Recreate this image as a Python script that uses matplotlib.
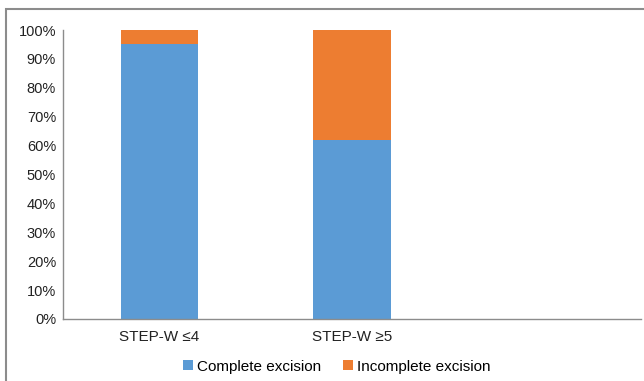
import matplotlib.pyplot as plt
from matplotlib.patches import Rectangle

plt.rcParams['font.family'] = ['Liberation Sans', 'DejaVu Sans']

categories = ['STEP-W \u22644', 'STEP-W \u22655', '']
complete = [0.95, 0.62, 0]
incomplete = [0.05, 0.38, 0]

blue = '#5B9BD5'
orange = '#ED7D31'

fig = plt.figure(figsize=(6.44, 3.81), dpi=100)
# outer chart frame (runs off the right and bottom edges)
fig.patches.append(Rectangle((5.5 / 644, -0.05), 1.0, 1 - 8.5 / 381 + 0.05,
                             transform=fig.transFigure, fill=False,
                             edgecolor='#8c8c8c', linewidth=1.5))

ax = fig.add_axes([63 / 644, 1 - 319 / 381, (641 - 63) / 644, (319 - 30) / 381])
x = range(len(categories))
ax.bar(x, complete, width=0.4, color=blue, label='Complete excision')
ax.bar(x, incomplete, width=0.4, bottom=complete, color=orange, label='Incomplete excision')

ax.set_xlim(-0.5, 2.5)
ax.set_ylim(0, 1)
ax.set_yticks([i / 10 for i in range(11)])
ax.set_yticklabels(['{}%'.format(i * 10) for i in range(11)], fontsize=10.5, color='#222222')
ax.set_xticks(list(x))
ax.set_xticklabels(categories, fontsize=11, color='#222222')
ax.tick_params(axis='y', length=0, pad=5)
ax.tick_params(axis='x', length=0, pad=8)
for s in ['top', 'right']:
    ax.spines[s].set_visible(False)
for s in ['left', 'bottom']:
    ax.spines[s].set_color('#8c8c8c')
    ax.spines[s].set_linewidth(1.0)

ax.legend(loc='center', bbox_to_anchor=(0.474, -0.165), ncol=2, frameon=False,
          fontsize=11, handlelength=0.65, handleheight=0.65, handletextpad=0.3,
          columnspacing=1.4)

fig.savefig('out.png', dpi=100)
